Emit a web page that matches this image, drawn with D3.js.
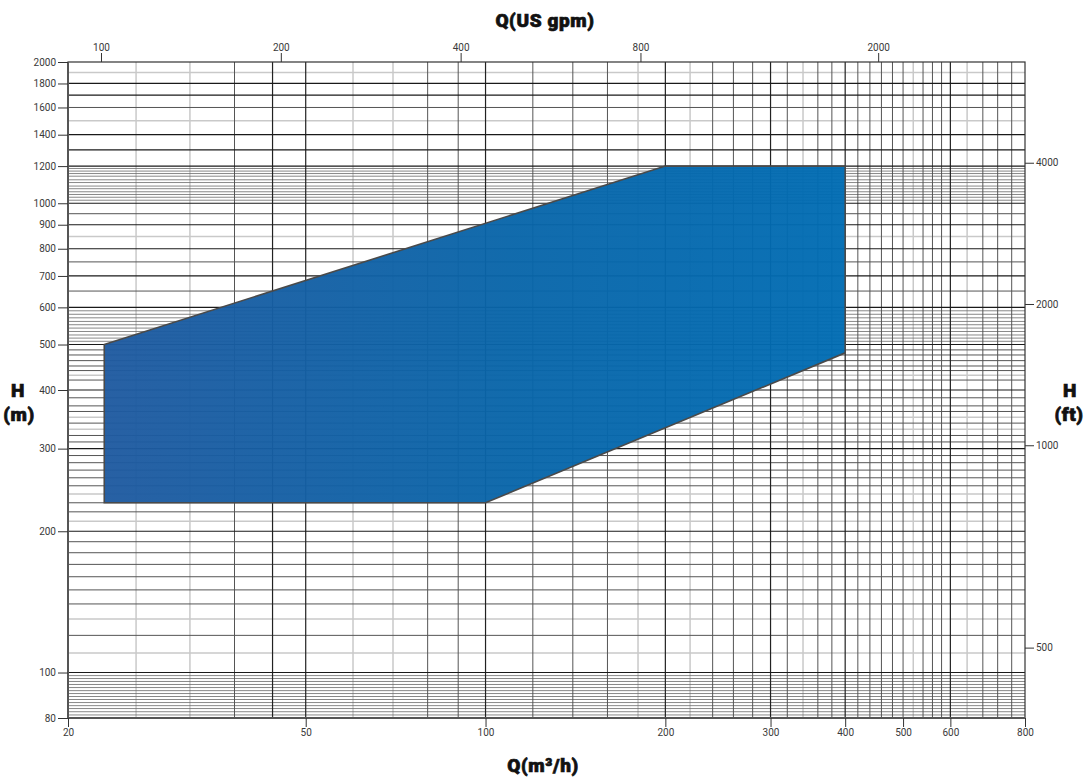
<!DOCTYPE html>
<html>
<head>
<meta charset="utf-8">
<script src="https://cdn.jsdelivr.net/npm/d3@7"></script>
<style>
  body { margin: 0; background: #fff; }
  .tick-label { font-family: Roboto, "Liberation Sans", sans-serif; font-size: 10px; fill: #3a3a3a; }
  .title { font-family: Roboto, "Liberation Sans", sans-serif; font-weight: 900; font-size: 19px; fill: #111;
           stroke: #111; stroke-width: 0.7px; letter-spacing: 0.6px; }
</style>
</head>
<body>
<div id="chart"></div>
<script>
// operating range envelope (Q in m3/h, H in m)
const qPoints = [23, 200, 400, 400, 100, 23];
const hPoints = [500, 1200, 1200, 480, 230, 230];

// axis tick labels
const bottomTicks = [20, 50, 100, 200, 300, 400, 500, 600, 800];
const leftTicks = [80, 100, 200, 300, 400, 500, 600, 700, 800, 900, 1000, 1200, 1400, 1600, 1800, 2000];
const topTicksGpm = [100, 200, 400, 800, 2000];
const rightTicksFt = [500, 1000, 2000, 4000];
const rightTicksAtM = [113, 305, 610, 1220]; // where the ft labels sit on the metre scale

// grid lines (vertical, m3/h)
const xGridMajor = [44, 50, 100, 200, 300, 400, 600];
const xGridMinor = [38, 80, 90, 120, 140, 160, 240, 260, 280, 320, 360, 380, 420, 440, 460, 480, 500, 540, 560, 580, 680, 720, 760];
const xGridLight = [26, 32, 60, 70, 180, 220, 340, 520, 640];

// grid lines (horizontal, m)
const yGridMajor = [100, 200, 300, 400, 500, 600, 700, 800, 900, 1000, 1200, 1300, 1400, 1700, 1800];
const yGridMinor = [120, 140, 150, 160, 170, 180, 190, 220, 230, 250, 260, 270, 280, 290, 310, 320, 340, 360, 370, 385,
  420, 440, 450, 462, 475, 487, 650, 750, 950, 1600];
const yGridLight = [110, 130, 210, 240, 330, 350, 430, 850, 1500, 1900];
const yGridDense = [81.2, 82.5, 83.8, 85, 86.3, 87.6, 88.9, 90.2, 91.5, 92.9, 94.3, 95.7, 97.1, 98.5,
  508, 516, 524, 533, 542, 551, 560, 570, 580, 590,
  1015, 1030, 1044, 1058, 1074, 1088, 1107, 1122, 1142, 1157, 1171, 1186];

const GPM_PER_M3H = 4.4029;

const W = 1089, H = 780;
const margin = {top: 62, right: 64, bottom: 62, left: 68};
const width = W - margin.left - margin.right,
      height = H - margin.top - margin.bottom;

const svg = d3.select("#chart").append("svg")
    .attr("width", W)
    .attr("height", H);

const g = svg.append("g")
    .attr("transform", "translate(" + margin.left + "," + margin.top + ")");

const x = d3.scaleLog().domain([20, 800]).range([0, width]);
const y = d3.scaleLog().domain([80, 2000]).range([height, 0]);

// gradient for the envelope
const grad = svg.append("defs").append("linearGradient")
    .attr("id", "envFill")
    .attr("gradientUnits", "userSpaceOnUse")
    .attr("x1", x(23)).attr("x2", x(400))
    .attr("y1", 0).attr("y2", 0);
grad.append("stop").attr("offset", "0%").attr("stop-color", "#1f5aa0");
grad.append("stop").attr("offset", "55%").attr("stop-color", "#0865a9");
grad.append("stop").attr("offset", "100%").attr("stop-color", "#006cb3");

// grid
function vLines(vals, color, w) {
  g.append("g").selectAll("line").data(vals).join("line")
      .attr("x1", d => x(d)).attr("x2", d => x(d))
      .attr("y1", 0).attr("y2", height)
      .attr("stroke", color).attr("stroke-width", w);
}
function hLines(vals, color, w) {
  g.append("g").selectAll("line").data(vals).join("line")
      .attr("x1", 0).attr("x2", width)
      .attr("y1", d => y(d)).attr("y2", d => y(d))
      .attr("stroke", color).attr("stroke-width", w);
}
vLines(xGridLight, "#c9c9c9", 1.5);
hLines(yGridLight, "#c9c9c9", 1.5);
hLines(yGridDense, "#6a6a6a", 0.8);
vLines(xGridMinor, "#555", 1);
hLines(yGridMinor, "#555", 1);
vLines(xGridMajor, "#222", 1.2);
hLines(yGridMajor, "#1a1a1a", 1.2);

// envelope
const pts = qPoints.map((q, i) => [x(q), y(hPoints[i])]);
g.append("path")
    .attr("d", d3.line()(pts) + "Z")
    .attr("fill", "url(#envFill)")
    .attr("fill-opacity", 0.96)
    .attr("stroke", "#4a4a4a")
    .attr("stroke-width", 1.6)
    .attr("stroke-linejoin", "miter");

// frame
g.append("rect")
    .attr("width", width).attr("height", height)
    .attr("fill", "none").attr("stroke", "#333").attr("stroke-width", 1.2);
g.append("line").attr("x1", 0).attr("x2", 0).attr("y1", 0).attr("y2", height)
    .attr("stroke", "#555").attr("stroke-width", 2);
g.append("line").attr("x1", 0).attr("x2", width).attr("y1", height).attr("y2", height)
    .attr("stroke", "#555").attr("stroke-width", 2);

// axes
function styleAxis(sel) {
  sel.select(".domain").remove();
  sel.selectAll(".tick line").attr("stroke", "#333").attr("stroke-width", 1);
  sel.selectAll(".tick text").attr("class", "tick-label").attr("fill", null);
}

g.append("g")
    .attr("transform", "translate(0," + height + ")")
    .call(d3.axisBottom(x).tickValues(bottomTicks).tickFormat(d3.format("d")).tickSize(9).tickPadding(2))
    .call(styleAxis);

g.append("g")
    .call(d3.axisLeft(y).tickValues(leftTicks).tickFormat(d3.format("d")).tickSize(10).tickPadding(2))
    .call(styleAxis);

g.append("g")
    .call(d3.axisTop(x).tickValues(topTicksGpm.map(v => v / GPM_PER_M3H))
        .tickFormat((d, i) => topTicksGpm[i]).tickSize(9).tickPadding(2))
    .call(styleAxis);

g.append("g")
    .attr("transform", "translate(" + width + ",0)")
    .call(d3.axisRight(y).tickValues(rightTicksAtM)
        .tickFormat((d, i) => rightTicksFt[i]).tickSize(9).tickPadding(2))
    .call(styleAxis);

// titles
svg.append("text").attr("class", "title")
    .attr("x", 545).attr("y", 27).attr("text-anchor", "middle").text("Q(US gpm)");
svg.append("text").attr("class", "title")
    .attr("x", 543).attr("y", 772).attr("text-anchor", "middle").text("Q(m³/h)");
svg.append("text").attr("class", "title")
    .attr("x", 18).attr("y", 397).attr("text-anchor", "middle").text("H");
svg.append("text").attr("class", "title")
    .attr("x", 19).attr("y", 421).attr("text-anchor", "middle").text("(m)");
svg.append("text").attr("class", "title")
    .attr("x", 1070).attr("y", 397).attr("text-anchor", "middle").text("H");
svg.append("text").attr("class", "title")
    .attr("x", 1069).attr("y", 421).attr("text-anchor", "middle").text("(ft)");
</script>
</body>
</html>
